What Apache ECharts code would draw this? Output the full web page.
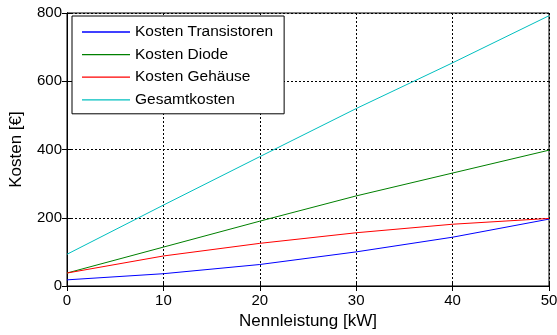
<!DOCTYPE html>
<html>
<head>
<meta charset="utf-8">
<script src="https://cdn.jsdelivr.net/npm/echarts@6/dist/echarts.min.js"></script>
<style>html,body{margin:0;padding:0;background:#fff}#c{width:557px;height:335px}</style>
</head>
<body>
<div id="c"></div>
<script>
const leistung = [0, 10, 20, 30, 40, 50];
const kostenTransistoren = [18, 36, 63, 100, 143, 196];
const kostenDiode = [38, 114, 190, 264, 331, 398];
const kostenGehaeuse = [38, 88, 125, 156, 181, 198];
const gesamtkosten = [93, 237, 379, 520, 654, 792];
const seriesNames = ['Kosten Transistoren', 'Kosten Diode', 'Kosten Gehäuse', 'Gesamtkosten'];
const xLabel = 'Nennleistung [kW]';
const yLabel = 'Kosten [€]';

const FONT = 'Liberation Sans, Arial, sans-serif';
const colors = ['#0000ff', '#008000', '#ff0000', '#00bfbf'];
const allData = [kostenTransistoren, kostenDiode, kostenGehaeuse, gesamtkosten];

const chart = echarts.init(document.getElementById('c'), null, {renderer: 'canvas'});
const gridLine = {show: true, lineStyle: {color: '#000', type: [2, 2], width: 1}};
const tickIn = {show: true, inside: true, length: 5, lineStyle: {color: '#000'}};
chart.setOption({
  animation: false,
  backgroundColor: '#fff',
  grid: {left: 67, right: 8, top: 13, bottom: 49, show: true, borderColor: '#000', borderWidth: 1,
         backgroundColor: 'transparent', containLabel: false, outerBoundsMode: 'none'},
  legend: {
    orient: 'vertical', left: 72, top: 16,
    data: seriesNames.map((n, i) => ({name: n, icon: 'path://M0,0H48V1.3H0Z',
      itemStyle: {color: colors[i], borderWidth: 0}})),
    itemWidth: 48, itemHeight: 14, itemGap: 6.6,
    symbolKeepAspect: true,
    padding: [8, 11, 6, 10],
    borderColor: '#000', borderWidth: 1, backgroundColor: '#fff',
    textStyle: {color: '#000', fontSize: 15.5, fontFamily: FONT},
    selectedMode: false
  },
  xAxis: [{
    type: 'value', min: 0, max: 50, interval: 10,
    name: xLabel, nameLocation: 'middle', nameGap: 26,
    nameTextStyle: {color: '#000', fontSize: 17, fontFamily: FONT},
    axisLine: {show: true, onZero: false, lineStyle: {color: '#000', width: 1}},
    axisTick: tickIn,
    axisLabel: {color: '#000', fontSize: 15, fontFamily: FONT, margin: 7},
    splitLine: gridLine
  }, {
    type: 'value', min: 0, max: 50, interval: 10, position: 'top',
    axisLine: {show: true, lineStyle: {color: '#000', width: 1}},
    axisTick: tickIn, axisLabel: {show: false}, splitLine: {show: false}
  }],
  yAxis: [{
    type: 'value', min: 0, max: 800, interval: 200,
    name: yLabel, nameLocation: 'middle', nameGap: 42,
    nameTextStyle: {color: '#000', fontSize: 17, fontFamily: FONT},
    axisLine: {show: true, onZero: false, lineStyle: {color: '#000', width: 1}},
    axisTick: tickIn,
    axisLabel: {color: '#000', fontSize: 15, fontFamily: FONT, margin: 5},
    splitLine: gridLine
  }, {
    type: 'value', min: 0, max: 800, interval: 200, position: 'right',
    axisLine: {show: true, lineStyle: {color: '#000', width: 1}},
    axisTick: tickIn, axisLabel: {show: false}, splitLine: {show: false}
  }],
  series: seriesNames.map((n, i) => ({
    name: n, type: 'line', symbol: 'none',
    data: leistung.map((x, j) => [x, allData[i][j]]),
    lineStyle: {color: colors[i], width: 1},
    itemStyle: {color: colors[i]},
    z: 3
  }))
});
</script>
</body>
</html>
